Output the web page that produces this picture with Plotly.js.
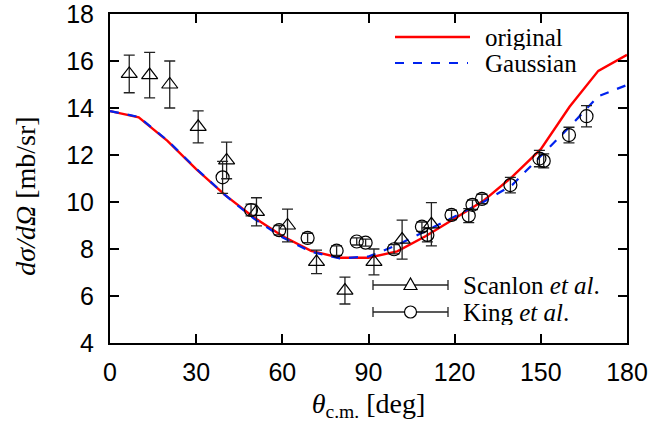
<!DOCTYPE html>
<html>
<head>
<meta charset="utf-8">
<script src="https://cdn.plot.ly/plotly-3.0.1.min.js"></script>
<style>
html,body{margin:0;padding:0;background:#fff;}
#chart{width:652px;height:430px;}
</style>
</head>
<body>
<div id="chart"></div>
<script>
// ---- data ----
var originalAngle = [0,10,20,30,40,50,60,70,80,90,100,110,120,130,140,150,160,170,180];
var originalXs    = [13.87,13.6,12.6,11.4,10.3,9.35,8.55,7.92,7.63,7.63,7.9,8.55,9.3,10.05,11.07,12.25,14.05,15.58,16.26];

var gaussianAngle = [0,10,20,30,40,50,60,70,80,90,95,100,110,120,130,140,150,160,170,180];
var gaussianXs    = [13.87,13.62,12.62,11.42,10.3,9.3,8.5,7.88,7.6,7.68,7.92,8.17,8.77,9.4,10.0,10.72,11.95,13.2,14.5,14.98];

var scanlonAngle = [6.7,13.8,20.8,30.7,40.6,51.0,61.8,71.9,81.8,91.9,101.7,111.9];
var scanlonXs    = [15.45,15.4,15.0,13.2,11.77,9.58,9.0,7.45,6.23,7.45,8.4,9.05];
var scanlonErr   = [0.8,0.97,1.0,0.68,0.78,0.6,0.7,0.5,0.57,0.55,0.83,0.92];

var kingAngle = [39.2,49.1,58.9,68.8,78.9,85.9,89.0,98.9,108.6,110.5,118.9,124.9,126.2,129.5,139.4,149.5,151.0,159.8,165.9];
var kingXs    = [11.05,9.66,8.8,8.47,7.93,8.32,8.27,7.99,8.95,8.6,9.45,9.42,9.88,10.13,10.72,11.85,11.75,12.85,13.65];
var kingErr   = [0.68,0.25,0.2,0.2,0.2,0.15,0.15,0.2,0.2,0.3,0.2,0.3,0.2,0.2,0.33,0.35,0.3,0.33,0.45];

var xTicks = [0,30,60,90,120,150,180];
var yTicks = [4,6,8,10,12,14,16,18];

var seriesNames = ['original','Gaussian','Scanlon <i>et al</i>.','King <i>et al</i>.'];

// ---- traces ----
var serif = 'Liberation Serif, Times New Roman, serif';
var sans = 'Liberation Sans, Arial, sans-serif';

var traces = [
  {x: originalAngle, y: originalXs, mode:'lines', name:'original', showlegend:false,
   line:{color:'#ff0000', width:2.4}},
  {x: gaussianAngle, y: gaussianXs, mode:'lines', name:'Gaussian', showlegend:false,
   line:{color:'#0022ee', width:2.2, dash:'dash'}},
  {x: scanlonAngle, y: scanlonXs, mode:'markers', name:'Scanlon et al.', showlegend:false,
   marker:{symbol:'triangle-up-open', size:14, color:'#000', line:{width:1.2, color:'#000'}},
   error_y:{type:'data', array: scanlonErr, visible:true, color:'#222', thickness:1.3, width:5.5}},
  {x: kingAngle, y: kingXs, mode:'markers', name:'King et al.', showlegend:false,
   marker:{symbol:'circle-open', size:13, color:'#000', line:{width:1.2, color:'#000'}},
   error_y:{type:'data', array: kingErr, visible:true, color:'#222', thickness:1.3, width:5.5}}
];

// legend keys (paper coords) -- styling only
function px2x(px){ return (px-110)/517; }
function py2y(py){ return (343-py)/329; }

var shapes = [
  {type:'line', xref:'paper', yref:'paper', x0:px2x(395), x1:px2x(470), y0:py2y(37), y1:py2y(37), line:{color:'#ff0000', width:2.4}},
  {type:'line', xref:'paper', yref:'paper', x0:px2x(395), x1:px2x(468), y0:py2y(63), y1:py2y(63), line:{color:'#0022ee', width:2.2, dash:'dash'}},
  // Scanlon key
  {type:'line', xref:'paper', yref:'paper', x0:px2x(373), x1:px2x(448), y0:py2y(285), y1:py2y(285), line:{color:'#222', width:1.3}},
  {type:'line', xref:'paper', yref:'paper', x0:px2x(373), x1:px2x(373), y0:py2y(280), y1:py2y(290), line:{color:'#222', width:1.3}},
  {type:'line', xref:'paper', yref:'paper', x0:px2x(448), x1:px2x(448), y0:py2y(280), y1:py2y(290), line:{color:'#222', width:1.3}},
  {type:'path', xref:'paper', yref:'paper', xsizemode:'pixel', ysizemode:'pixel', xanchor:px2x(410.5), yanchor:py2y(285),
   path:'M -6.5 -4.5 L 6.5 -4.5 L 0 7 Z', fillcolor:'#fff', line:{color:'#000', width:1.2}},
  // King key
  {type:'line', xref:'paper', yref:'paper', x0:px2x(373), x1:px2x(448), y0:py2y(312), y1:py2y(312), line:{color:'#222', width:1.3}},
  {type:'line', xref:'paper', yref:'paper', x0:px2x(373), x1:px2x(373), y0:py2y(307), y1:py2y(317), line:{color:'#222', width:1.3}},
  {type:'line', xref:'paper', yref:'paper', x0:px2x(448), x1:px2x(448), y0:py2y(307), y1:py2y(317), line:{color:'#222', width:1.3}},
  {type:'circle', xref:'paper', yref:'paper', xsizemode:'pixel', ysizemode:'pixel', xanchor:px2x(410.5), yanchor:py2y(312),
   x0:-6, x1:6, y0:-6, y1:6, fillcolor:'#fff', line:{color:'#000', width:1.2}}
];

var legendFont = {family:serif, size:25, color:'#000'};
var annotations = [
  {xref:'paper', yref:'paper', x:px2x(484), y:py2y(37), text:seriesNames[0], showarrow:false, xanchor:'left', yanchor:'middle', height:26, borderpad:0, font:legendFont},
  {xref:'paper', yref:'paper', x:px2x(484), y:py2y(63), text:seriesNames[1], showarrow:false, xanchor:'left', yanchor:'middle', height:26, borderpad:0, font:legendFont},
  {xref:'paper', yref:'paper', x:px2x(462), y:py2y(285), text:seriesNames[2], showarrow:false, xanchor:'left', yanchor:'middle', height:26, borderpad:0, font:legendFont},
  {xref:'paper', yref:'paper', x:px2x(462), y:py2y(312), text:seriesNames[3], showarrow:false, xanchor:'left', yanchor:'middle', height:26, borderpad:0, font:legendFont}
];

var layout = {
  width:652, height:430,
  margin:{l:110, r:25, t:14, b:87},
  paper_bgcolor:'#fff', plot_bgcolor:'#fff',
  showlegend:false,
  xaxis:{
    range:[0,180], tickvals:xTicks, ticktext:xTicks.map(String),
    ticks:'inside', ticklen:9, tickwidth:2, tickcolor:'#000',
    showline:true, linecolor:'#000', linewidth:2, mirror:'ticks',
    showgrid:false, zeroline:false,
    tickfont:{family:sans, size:25, color:'#000'},
    ticklabelstandoff:6, ticklabeloverflow:'allow',
    title:{text:'<i>θ</i><sub>c.m.</sub> [deg]', font:{family:serif, size:28, color:'#000'}, standoff:8}
  },
  yaxis:{
    range:[4,18], tickvals:yTicks, ticktext:yTicks.map(String),
    ticks:'inside', ticklen:9, tickwidth:2, tickcolor:'#000',
    showline:true, linecolor:'#000', linewidth:2, mirror:'ticks',
    showgrid:false, zeroline:false,
    tickfont:{family:sans, size:25, color:'#000'},
    ticklabelstandoff:9, ticklabeloverflow:'allow',
    title:{text:'<i>dσ/dΩ</i> [mb/sr]&nbsp;&nbsp;&nbsp;&nbsp;&nbsp;', font:{family:serif, size:28, color:'#000'}, standoff:22}
  },
  shapes:shapes,
  annotations:annotations
};

Plotly.newPlot('chart', traces, layout, {displayModeBar:false, staticPlot:true});
</script>
</body>
</html>
